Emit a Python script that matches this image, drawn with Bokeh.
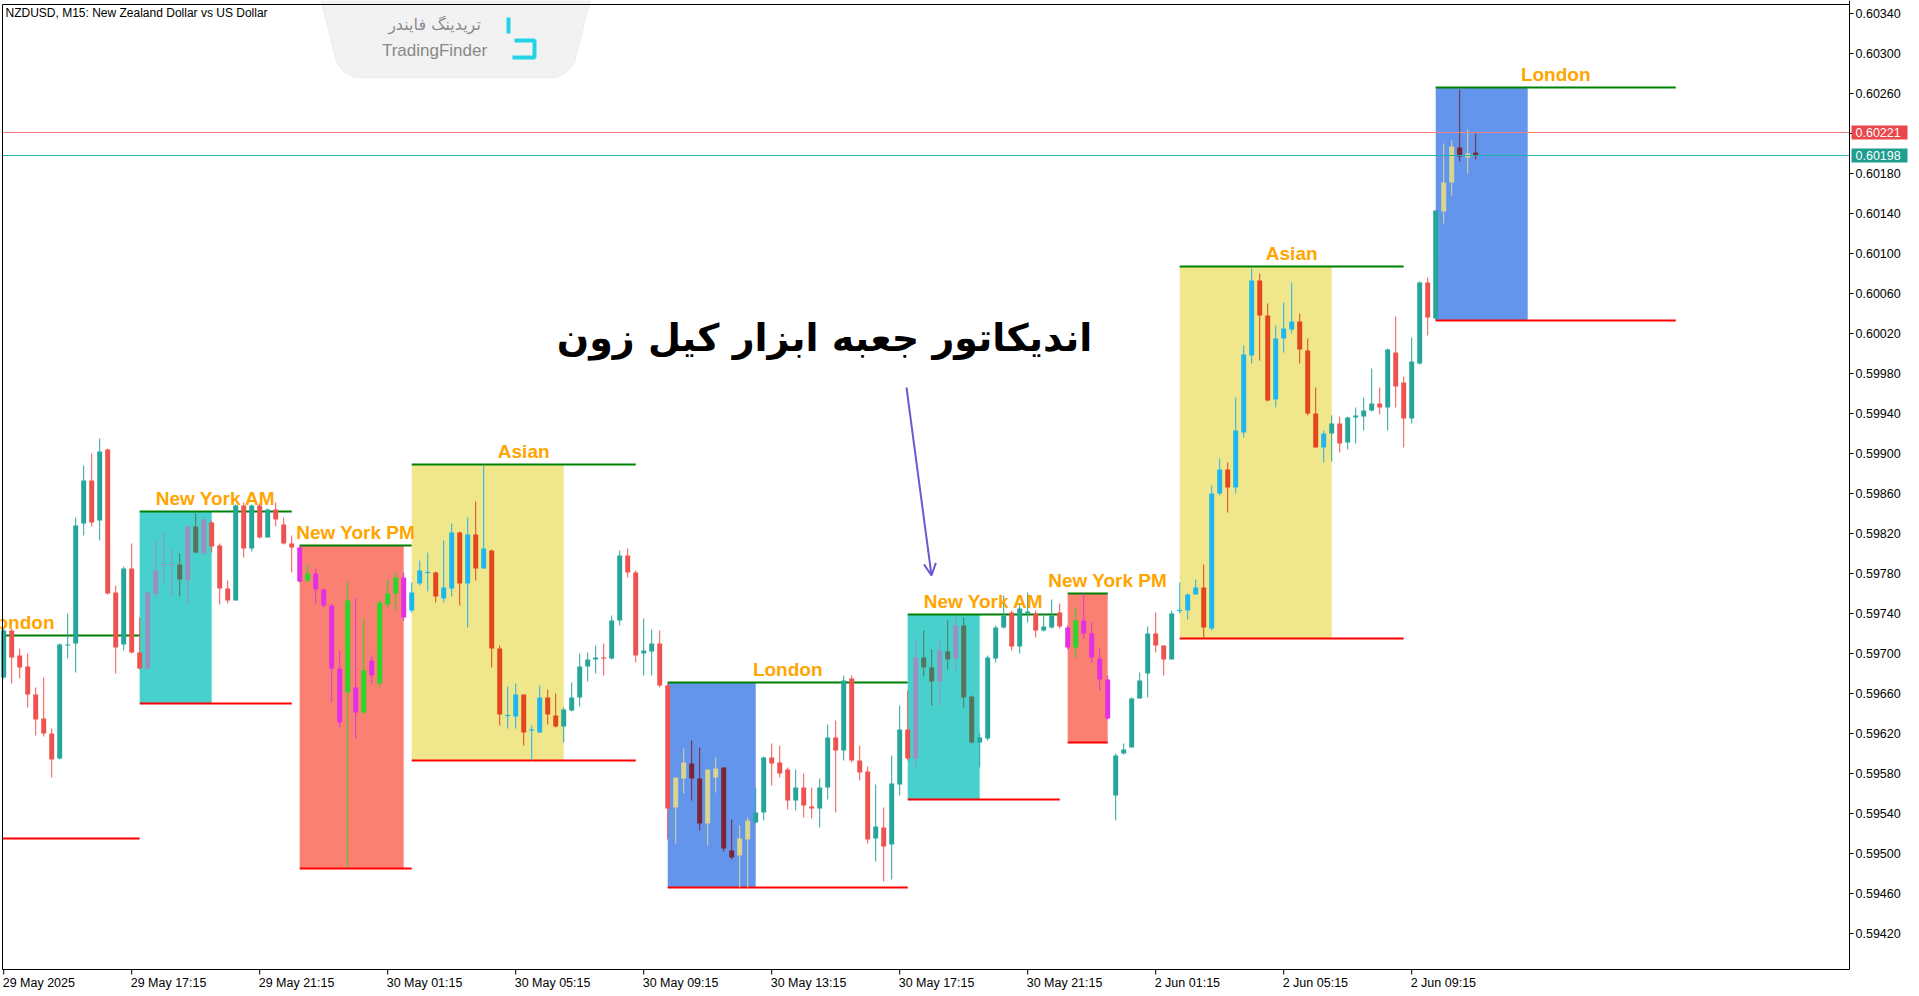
from bokeh.plotting import figure
from bokeh.models import Range1d, Arrow, OpenHead, ColumnDataSource
from bokeh.core.properties import value
from bokeh.embed import file_html
from bokeh.resources import INLINE

# ---------------- data (NZDUSD M15, bar index 0 = 29 May 13:15) ----------------
opens = [0.59676,0.59723,0.59698,0.59687,0.59659,0.59635,0.59620,0.59595,0.59708,0.59710,
         0.59830,0.59873,0.59833,0.59904,0.59761,0.59709,0.59785,0.59701,0.59685,0.59760,
         0.59789,0.59789,0.59789,0.59773,0.59827,0.59800,0.59831,0.59808,0.59765,0.59753,
         0.59848,0.59805,0.59848,0.59816,0.59844,0.59829,0.59810,0.59806,0.59773,0.59780,
         0.59764,0.59748,0.59685,0.59661,0.59666,0.59641,0.59693,0.59670,0.59749,0.59760,
         0.59776,0.59743,0.59770,0.59781,0.59781,0.59755,0.59765,0.59821,0.59770,0.59819,
         0.59785,0.59803,0.59705,0.59638,0.59637,0.59659,0.59623,0.59621,0.59656,0.59638,
         0.59627,0.59643,0.59656,0.59687,0.59694,0.59696,0.59695,0.59733,0.59798,0.59781,
         0.59700,0.59702,0.59710,0.59668,0.59546,0.59575,0.59590,0.59575,0.59530,0.59576,
         0.59586,0.59503,0.59498,0.59514,0.59531,0.59541,0.59596,0.59591,0.59584,0.59553,
         0.59566,0.59547,0.59545,0.59566,0.59616,0.59603,0.59675,0.59593,0.59582,0.59515,
         0.59526,0.59509,0.59569,0.59624,0.59595,0.59696,0.59686,0.59672,0.59702,0.59695,
         0.59728,0.59657,0.59611,0.59615,0.59695,0.59726,0.59741,0.59707,0.59740,0.59740,
         0.59723,0.59726,0.59741,0.59726,0.59706,0.59733,0.59720,0.59695,0.59674,0.59558,
         0.59600,0.59606,0.59655,0.59680,0.59720,0.59708,0.59694,0.59743,0.59743,0.59759,
         0.59766,0.59725,0.59860,0.59884,0.59866,0.59921,0.59998,0.60073,0.60038,0.59954,
         0.60015,0.60024,0.60032,0.60003,0.59940,0.59906,0.59920,0.59930,0.59911,0.59936,
         0.59937,0.59943,0.59950,0.59946,0.60001,0.59971,0.59935,0.59990,0.60071,0.60035,
         0.60142,0.60171,0.60206,0.60196,0.60201]
highs = [0.59726,0.59725,0.59705,0.59700,0.59666,0.59676,0.59625,0.59710,0.59740,0.59836,
         0.59888,0.59900,0.59915,0.59905,0.59768,0.59787,0.59810,0.59736,0.59762,0.59812,
         0.59822,0.59804,0.59800,0.59828,0.59840,0.59836,0.59833,0.59810,0.59773,0.59849,
         0.59851,0.59849,0.59850,0.59845,0.59851,0.59836,0.59818,0.59808,0.59789,0.59785,
         0.59765,0.59750,0.59703,0.59772,0.59755,0.59735,0.59698,0.59753,0.59774,0.59781,
         0.59781,0.59771,0.59793,0.59801,0.59782,0.59813,0.59830,0.59822,0.59836,0.59852,
         0.59888,0.59804,0.59708,0.59667,0.59670,0.59659,0.59628,0.59668,0.59664,0.59660,
         0.59646,0.59671,0.59700,0.59701,0.59708,0.59710,0.59738,0.59803,0.59805,0.59783,
         0.59735,0.59724,0.59723,0.59670,0.59576,0.59605,0.59613,0.59606,0.59584,0.59596,
         0.59586,0.59534,0.59528,0.59536,0.59566,0.59597,0.59610,0.59608,0.59586,0.59584,
         0.59580,0.59566,0.59575,0.59629,0.59633,0.59678,0.59678,0.59608,0.59587,0.59569,
         0.59546,0.59598,0.59648,0.59663,0.59713,0.59723,0.59704,0.59715,0.59733,0.59737,
         0.59736,0.59658,0.59620,0.59698,0.59728,0.59758,0.59743,0.59750,0.59761,0.59743,
         0.59740,0.59754,0.59750,0.59728,0.59746,0.59760,0.59731,0.59705,0.59678,0.59600,
         0.59610,0.59656,0.59681,0.59727,0.59741,0.59708,0.59743,0.59771,0.59760,0.59774,
         0.59789,0.59868,0.59895,0.59891,0.59956,0.60008,0.60085,0.60080,0.60050,0.60028,
         0.60051,0.60071,0.60040,0.60015,0.59966,0.59923,0.59938,0.59937,0.59937,0.59946,
         0.59956,0.59985,0.59966,0.60005,0.60037,0.59977,0.60016,0.60072,0.60076,0.60143,
         0.60210,0.60213,0.60264,0.60224,0.60220]
lows = [0.59675,0.59670,0.59675,0.59646,0.59618,0.59617,0.59576,0.59594,0.59695,0.59681,
        0.59818,0.59827,0.59813,0.59759,0.59680,0.59703,0.59700,0.59684,0.59684,0.59755,
        0.59770,0.59757,0.59757,0.59749,0.59800,0.59798,0.59801,0.59749,0.59750,0.59753,
        0.59796,0.59802,0.59815,0.59816,0.59827,0.59809,0.59781,0.59771,0.59771,0.59750,
        0.59746,0.59651,0.59626,0.59486,0.59615,0.59640,0.59670,0.59666,0.59746,0.59743,
        0.59733,0.59741,0.59768,0.59762,0.59751,0.59751,0.59757,0.59748,0.59726,0.59773,
        0.59785,0.59686,0.59628,0.59625,0.59625,0.59608,0.59593,0.59621,0.59629,0.59626,
        0.59611,0.59642,0.59647,0.59672,0.59680,0.59678,0.59694,0.59728,0.59776,0.59691,
        0.59678,0.59678,0.59666,0.59514,0.59510,0.59560,0.59553,0.59523,0.59508,0.59561,
        0.59502,0.59494,0.59466,0.59466,0.59530,0.59533,0.59568,0.59576,0.59544,0.59543,
        0.59536,0.59535,0.59526,0.59554,0.59541,0.59593,0.59591,0.59573,0.59510,0.59492,
        0.59472,0.59474,0.59558,0.59593,0.59585,0.59677,0.59648,0.59648,0.59684,0.59683,
        0.59646,0.59610,0.59586,0.59613,0.59691,0.59725,0.59703,0.59700,0.59731,0.59716,
        0.59722,0.59725,0.59725,0.59704,0.59695,0.59715,0.59691,0.59663,0.59634,0.59533,
        0.59599,0.59606,0.59655,0.59656,0.59701,0.59678,0.59694,0.59740,0.59734,0.59759,
        0.59715,0.59723,0.59858,0.59841,0.59860,0.59916,0.59990,0.59993,0.59952,0.59946,
        0.60001,0.60020,0.59990,0.59938,0.59906,0.59891,0.59892,0.59901,0.59904,0.59910,
        0.59923,0.59942,0.59939,0.59923,0.59946,0.59906,0.59930,0.59989,0.60018,0.60033,
        0.60130,0.60158,0.60192,0.60180,0.60194]
closes = [0.59723,0.59696,0.59686,0.59659,0.59634,0.59620,0.59594,0.59709,0.59709,0.59828,
          0.59873,0.59831,0.59902,0.59760,0.59706,0.59785,0.59701,0.59685,0.59761,0.59783,
          0.59789,0.59789,0.59774,0.59827,0.59801,0.59834,0.59807,0.59765,0.59753,0.59848,
          0.59805,0.59848,0.59816,0.59844,0.59834,0.59810,0.59806,0.59772,0.59780,0.59764,
          0.59748,0.59685,0.59631,0.59753,0.59641,0.59683,0.59678,0.59751,0.59760,0.59776,
          0.59736,0.59761,0.59783,0.59781,0.59757,0.59766,0.59821,0.59770,0.59819,0.59785,
          0.59805,0.59705,0.59639,0.59638,0.59659,0.59621,0.59624,0.59656,0.59639,0.59627,
          0.59644,0.59656,0.59687,0.59694,0.59696,0.59695,0.59733,0.59798,0.59781,0.59698,
          0.59703,0.59710,0.59668,0.59545,0.59576,0.59591,0.59575,0.59530,0.59584,0.59585,
          0.59505,0.59496,0.59515,0.59533,0.59541,0.59596,0.59590,0.59580,0.59553,0.59566,
          0.59548,0.59545,0.59566,0.59616,0.59603,0.59673,0.59593,0.59581,0.59514,0.59527,
          0.59507,0.59570,0.59624,0.59595,0.59696,0.59686,0.59672,0.59703,0.59694,0.59728,
          0.59656,0.59611,0.59616,0.59696,0.59726,0.59738,0.59707,0.59745,0.59742,0.59723,
          0.59727,0.59738,0.59727,0.59706,0.59733,0.59720,0.59696,0.59674,0.59635,0.59598,
          0.59604,0.59655,0.59673,0.59720,0.59708,0.59694,0.59740,0.59743,0.59759,0.59766,
          0.59726,0.59860,0.59884,0.59866,0.59923,0.59999,0.60073,0.60038,0.59953,0.60015,
          0.60025,0.60032,0.60004,0.59940,0.59906,0.59920,0.59930,0.59910,0.59936,0.59938,
          0.59943,0.59950,0.59946,0.60004,0.59967,0.59935,0.59992,0.60071,0.60036,0.60143,
          0.60171,0.60207,0.60197,0.60200,0.60198]

tick_bars = [0, 16, 32, 48, 64, 80, 96, 112, 128, 144, 160, 176]
tick_labels = ["29 May 2025", "29 May 17:15", "29 May 21:15", "30 May 01:15", "30 May 05:15",
               "30 May 09:15", "30 May 13:15", "30 May 17:15", "30 May 21:15", "2 Jun 01:15",
               "2 Jun 05:15", "2 Jun 09:15"]
price_ticks = [round(0.59420 + 0.0004 * k, 5) for k in range(24)]

sess_name = ["London", "New York AM", "New York PM", "Asian", "London",
             "New York AM", "New York PM", "Asian", "London"]
sess_box_start = [-13, 17, 37, 51, 83, 113, 133, 147, 179]
sess_box_end = [-2, 26, 50, 70, 94, 122, 138, 166, 190.5]
sess_line_end = [17, 36, 51, 79, 113, 132, 138, 175, 209]
sess_span_end = [17, 36, 51, 79, 113, 132, 143, 175, 209]
sess_first_bar = [-12, 18, 37, 51, 84, 114, 133, 147, 180]
sess_last_bar = [-3, 25, 50, 69, 93, 121, 138, 165, 190]
sess_high = [0.59718, 0.59842, 0.59808, 0.59889, 0.59671, 0.59739, 0.59760, 0.60087, 0.60266]
sess_low = [0.59515, 0.59650, 0.59485, 0.59593, 0.59466, 0.59554, 0.59611, 0.59715, 0.60033]

ask_price = 0.60221
bid_price = 0.60198

# ---------------- styles ----------------
box_fill = {"London": "#6495ED", "New York AM": "#48D1CC", "New York PM": "#FA8072", "Asian": "#F0E68C"}
bull_col = {"London": "#D9D58F", "New York AM": "#9A8FC0", "New York PM": "#2BD62B", "Asian": "#1EB6EE"}
bear_col = {"London": "#7A2535", "New York AM": "#58745C", "New York PM": "#E42FE4", "Asian": "#E2461C"}
NORMAL_BULL = "#26A69A"
NORMAL_BEAR = "#EF5350"
AXIS_FONT = "Liberation Sans"

W, H = 1919, 996
X0 = -0.15              # bar coordinate at the chart's left border
PLOT_L, PLOT_R, PLOT_T, PLOT_B = 2, 1849, 4, 969   # chart frame in pixels


def bx(px):   # pixel x -> bar coordinate (8 px per bar)
    return X0 + (px - PLOT_L) / 8.0


def py(px):   # pixel y -> price (1 px per point)
    return (60353 - px) / 1e5


p = figure(width=W, height=H, x_range=Range1d(bx(0), bx(W)), y_range=Range1d(py(H), py(0)),
           output_backend="svg", toolbar_location=None,
           min_border_left=0, min_border_top=0, min_border_right=0, min_border_bottom=0)
p.axis.visible = False
p.grid.visible = False
p.outline_line_color = None
p.background_fill_color = "white"
p.border_fill_color = "white"

XL, XR = bx(PLOT_L), bx(PLOT_R)
YT, YB = py(PLOT_T), py(PLOT_B)

# watermark
wm_x = [bx(v) for v in [318, 592, 574, 566, 556, 354, 344, 336]]
wm_y = [py(v) for v in [-10, -10, 62, 72, 77, 77, 72, 62]]
p.patch(wm_x, wm_y, fill_color="#F2F2F2", line_color="#ECECEC")
p.text([bx(434)], [py(24)], text=["تریدینگ فایندر"], text_align="center", text_baseline="middle",
       text_color="#8A8A8A", text_font=value("DejaVu Sans"), text_font_size="16px")
p.text([bx(434)], [py(50)], text=["TradingFinder"], text_align="center", text_baseline="middle",
       text_color="#888888", text_font=value("Liberation Sans"), text_font_size="17px")
p.multi_line([[bx(508), bx(508)], [bx(514), bx(534), bx(534), bx(512)]],
             [[py(17), py(33)], [py(40), py(40), py(57), py(57)]],
             line_color="#22D3E6", line_width=4)

# session boxes and level lines (clipped at the chart's left border)
vis = [k for k in range(len(sess_name)) if sess_box_end[k] > XL]
p.quad(left=[max(sess_box_start[k], XL) for k in vis], right=[sess_box_end[k] for k in vis],
       top=[sess_high[k] for k in vis], bottom=[sess_low[k] for k in vis],
       fill_color=[box_fill[sess_name[k]] for k in vis], line_color=None)
seg_x0 = [max(s, XL) for s in sess_box_start]
p.segment(x0=seg_x0, x1=sess_line_end, y0=sess_high, y1=sess_high, line_color="#008000", line_width=2)
p.segment(x0=seg_x0, x1=sess_line_end, y0=sess_low, y1=sess_low, line_color="#FF0000", line_width=2)

# candles
n = len(opens)
idx = list(range(n))
colors = []
for i in idx:
    bull = closes[i] >= opens[i]
    c = NORMAL_BULL if bull else NORMAL_BEAR
    for k, name in enumerate(sess_name):
        if sess_first_bar[k] <= i <= sess_last_bar[k]:
            c = bull_col[name] if bull else bear_col[name]
    colors.append(c)
tops, bots = [], []
for o, c in zip(opens, closes):
    t, b = max(o, c), min(o, c)
    if t - b < 0.000012:
        m = (t + b) / 2
        t, b = m + 0.000006, m - 0.000006
    tops.append(t)
    bots.append(b)
src = ColumnDataSource(dict(x=idx, o=opens, h=highs, l=lows, c=closes, top=tops, bot=bots, col=colors))
p.segment(x0="x", x1="x", y0="l", y1="h", line_color="col", line_width=1, source=src)
p.vbar(x="x", width=0.62, top="top", bottom="bot", fill_color="col", line_color=None, source=src)

# session labels
label_x = [(a + b) / 2 for a, b in zip(sess_box_start, sess_span_end)]
p.text(x=label_x, y=sess_high, text=sess_name, text_align="center", text_baseline="bottom", y_offset=-3,
       text_color="#FFA500", text_font=value("Liberation Sans"), text_font_style="bold", text_font_size="19px")

# bid / ask lines
p.segment(x0=[XL, XL], x1=[XR, XR], y0=[ask_price, bid_price], y1=[ask_price, bid_price],
          line_color=["#F08080", "#20B2AA"], line_width=1)

# symbol caption
p.text([bx(5)], [py(5)], text=["NZDUSD, M15:  New Zealand Dollar vs US Dollar"], text_align="left",
       text_baseline="top", text_color="black", text_font=value(AXIS_FONT), text_font_size="12px")

# Persian title and arrow
p.text([bx(824)], [py(337)], text=["اندیکاتور جعبه ابزار کیل زون"], text_align="center",
       text_baseline="middle", text_color="black", text_font=value("DejaVu Sans"),
       text_font_style="bold", text_font_size="38px")
p.add_layout(Arrow(x_start=bx(906), y_start=py(387), x_end=bx(931), y_end=py(575),
                   line_color="#7058D0", line_width=2,
                   end=OpenHead(size=12, line_color="#7058D0", line_width=2)))

# chart frame
p.segment(x0=[XL, XL, XL, XR], x1=[XR, XR, XL, XR], y0=[YT, YB, YT, py(0)], y1=[YT, YB, YB, YB],
          line_color="black", line_width=1)

# price axis (right)
p.segment(x0=[XR] * len(price_ticks), x1=[bx(PLOT_R + 4)] * len(price_ticks), y0=price_ticks, y1=price_ticks,
          line_color="black", line_width=1)
p.text(x=[bx(PLOT_R + 6)] * len(price_ticks), y=price_ticks, text=["%.5f" % v for v in price_ticks],
       text_align="left", text_baseline="middle", text_color="black",
       text_font=value(AXIS_FONT), text_font_size="12.5px")

# time axis (bottom)
p.segment(x0=tick_bars, x1=tick_bars, y0=[YB] * len(tick_bars), y1=[py(PLOT_B + 5)] * len(tick_bars),
          line_color="black", line_width=1)
p.text(x=tick_bars, y=[py(PLOT_B + 6)] * len(tick_bars), text=tick_labels, x_offset=-1,
       text_align="left", text_baseline="top", text_color="black",
       text_font=value(AXIS_FONT), text_font_size="12.5px")

# price tags for ask / bid
tag_prices = [ask_price, bid_price]
p.quad(left=[bx(PLOT_R + 2)] * 2, right=[bx(PLOT_R + 58)] * 2,
       top=[v + 0.00007 for v in tag_prices], bottom=[v - 0.00007 for v in tag_prices],
       fill_color=["#E8474B", "#1E9E8E"], line_color=None)
p.text(x=[bx(PLOT_R + 6)] * 2, y=tag_prices, text=["%.5f" % v for v in tag_prices],
       text_align="left", text_baseline="middle", text_color="white",
       text_font=value(AXIS_FONT), text_font_size="12.5px")

open("out.html", "w").write(file_html(p, INLINE))
